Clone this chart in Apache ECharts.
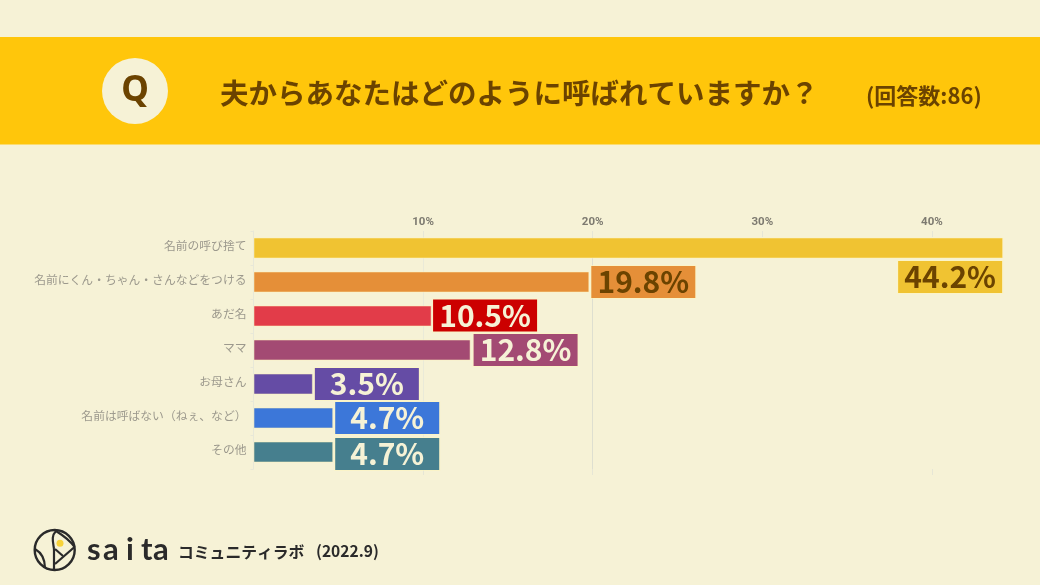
<!DOCTYPE html>
<html><head><meta charset="utf-8">
<style>html,body{margin:0;padding:0;background:#F6F2D6}#c{width:1040px;height:585px}</style>
<script src="https://cdn.jsdelivr.net/npm/echarts@6/dist/echarts.min.js"></script>
</head><body><div id="c"></div>
<script>
const categories = ['名前の呼び捨て','名前にくん・ちゃん・さんなどをつける','あだ名','ママ','お母さん','名前は呼ばない（ねぇ、など）','その他'];
const values = [44.2,19.8,10.5,12.8,3.5,4.7,4.7];
const tickValues = [10,20,30,40];
const bottomTicks = [10,20,40];
const barColors = ['#F0C332','#E58F38','#E23C49','#A34A73','#654CA5','#3C77D9','#467F8E'];
const labelColors = ['#F0C332','#E58F38','#CC0000','#A34A73','#654CA5','#3C77D9','#467F8E'];
const labelText = ['#6B4300','#6B4300','#F6F2D6','#F6F2D6','#F6F2D6','#F6F2D6','#F6F2D6'];
const labelOffsets = [[-55,29],[52,0],[51.5,-0.5],[53,0],[52,0],[52,0],[52,2]];
const JP = '"Noto Sans CJK JP","Noto Sans",sans-serif';
const splitColors = ['#EAEAD8','#DEDFD0','transparent','transparent'];
const ink = '#2A2A2A';
const logoLetters = [['s',87],['a',103],['i',126],['t',141],['a',153]];
const logoStroke = {fill:'none',stroke:ink,lineWidth:2.2};

const chart = echarts.init(document.getElementById('c'), null, {renderer:'canvas'});
chart.setOption({
  animation:false,
  backgroundColor:'#F6F2D6',
  grid:{left:253.5,top:231,width:763.2,height:238,containLabel:false},
  xAxis:[{
    type:'value',position:'top',min:0,max:45,interval:10,
    axisLine:{show:false},
    axisTick:{show:true,inside:true,length:6,customValues:tickValues,lineStyle:{color:'#E6E6D6'}},
    axisLabel:{margin:3,customValues:tickValues,fontFamily:'Roboto,"Liberation Sans",sans-serif',fontSize:11.5,fontWeight:'bold',color:'#7d7a70',
      formatter:v=>v+'%'},
    splitLine:{show:true,lineStyle:{color:splitColors,width:1}}
  },{
    type:'value',position:'bottom',min:0,max:45,interval:10,
    axisLine:{show:false},
    axisTick:{show:true,length:6,customValues:bottomTicks,lineStyle:{color:'#E6E6D6'}},
    axisLabel:{show:false},splitLine:{show:false}
  }],
  yAxis:{
    type:'category',inverse:true,data:categories,
    axisLine:{show:true,lineStyle:{color:'#E8E8D8'}},
    axisTick:{show:true,length:3,lineStyle:{color:'#E8E8D8'}},
    axisLabel:{margin:7,fontFamily:JP,fontSize:11.8,color:'#9C998D',verticalAlign:'bottom',lineHeight:4}
  },
  series:[{
    type:'bar',xAxisIndex:0,barWidth:21,
    data:values.map((v,i)=>({
      value:v,
      itemStyle:{color:barColors[i],borderColor:'rgba(255,245,190,0.5)',borderWidth:1},
      label:{
        show:true,position:'right',distance:2,offset:labelOffsets[i],
        formatter:'{c}%',width:104,height:32,align:'center',verticalAlign:'middle',lineHeight:32,
        fontFamily:JP,fontSize:30,fontWeight:'bold',color:labelText[i],
        backgroundColor:labelColors[i],borderColor:'rgba(255,245,190,0.55)',borderWidth:1
      }
    }))
  }],
  graphic:[
    {type:'rect',z:1,shape:{x:0,y:37,width:1040,height:107.5},style:{fill:'#FFC60B'}},
    {type:'circle',z:2,shape:{cx:135,cy:91,r:33},style:{fill:'#F6F2D6'}},
    {type:'text',z:3,x:135,y:91,style:{text:'Q',fill:'#6B4300',font:'bold 35px "Noto Sans","Liberation Sans",sans-serif',align:'center',verticalAlign:'middle'}},
    {type:'text',z:3,x:220,y:93,style:{text:'夫からあなたはどのように呼ばれていますか？',fill:'#6B4300',font:'bold 28.5px '+JP,verticalAlign:'middle'}},
    {type:'text',z:3,x:866,y:96,style:{text:'(回答数:86)',fill:'#6B4300',font:'bold 22px '+JP,verticalAlign:'middle'}},
    {type:'circle',z:3,shape:{cx:60,cy:543.3,r:3.5},style:{fill:'#F8D33A'}},
    {type:'circle',z:4,shape:{cx:54.7,cy:550,r:20},style:{fill:'none',stroke:ink,lineWidth:2.4}},
    {type:'polyline',z:4,shape:{points:[[54,570],[54,549]]},style:logoStroke},
    {type:'bezierCurve',z:4,shape:{x1:54,y1:549,cpx1:53,cpy1:542,cpx2:51,cpy2:536,x2:56,y2:531},style:logoStroke},
    {type:'bezierCurve',z:4,shape:{x1:56,y1:531,cpx1:64,cpy1:536,cpx2:70,cpy2:540,x2:74.5,y2:547},style:logoStroke},
    {type:'polyline',z:4,shape:{points:[[74.5,547],[55,564]]},style:logoStroke},
    {type:'polyline',z:4,shape:{points:[[55,549],[63,556]]},style:logoStroke},
    {type:'bezierCurve',z:4,shape:{x1:35,y1:549,cpx1:42,cpy1:553,cpx2:45,cpy2:560,x2:45,y2:568},style:logoStroke},
    ...logoLetters.map(([t,x])=>({type:'text',z:3,x:x,y:550,style:{text:t,fill:ink,font:'bold 31px Lato,sans-serif',verticalAlign:'middle'}})),
    {type:'text',z:3,x:178,y:552,style:{text:'コミュニティラボ',fill:ink,font:'bold 15.8px '+JP,verticalAlign:'middle'}},
    {type:'text',z:3,x:316,y:551,style:{text:'(2022.9)',fill:ink,font:'bold 15.6px '+JP,verticalAlign:'middle'}}
  ]
});
</script></body></html>
